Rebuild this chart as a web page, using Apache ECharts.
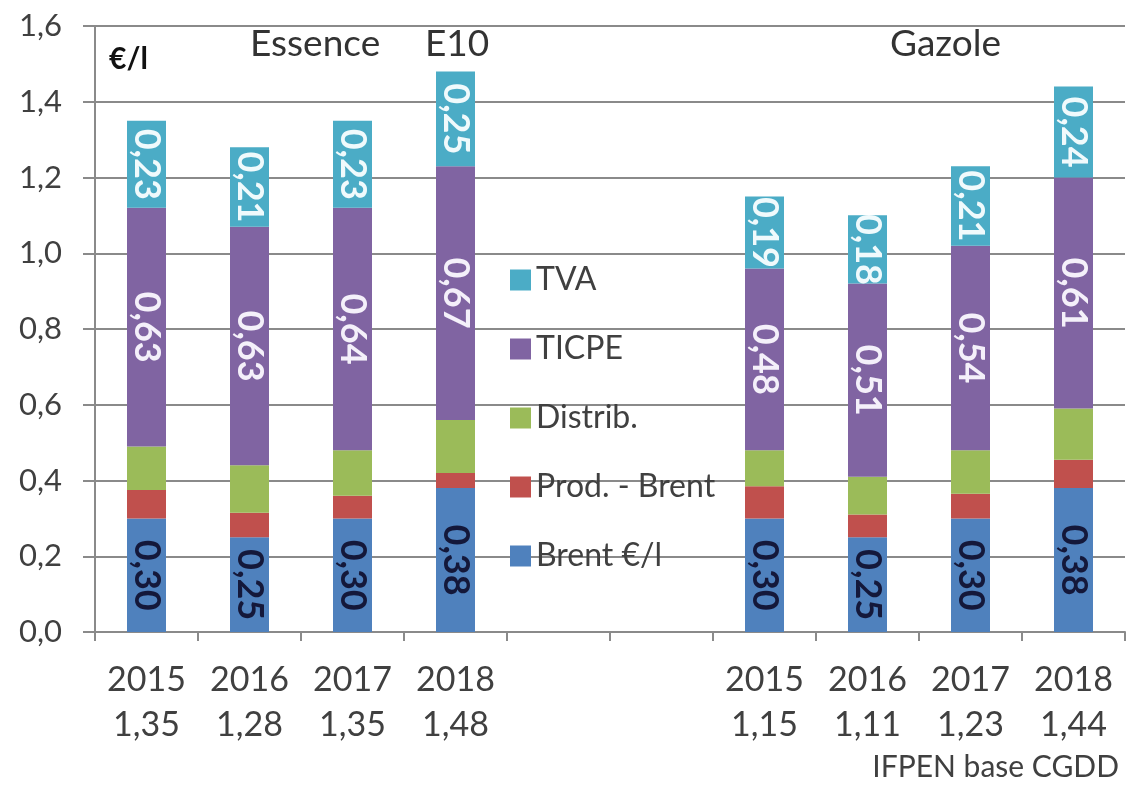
<!DOCTYPE html>
<html>
<head>
<meta charset="utf-8">
<title>Essence E10 / Gazole</title>
<script src="https://cdn.jsdelivr.net/npm/echarts@6/dist/echarts.min.js"></script>
<style>
  html, body { margin: 0; padding: 0; background: #fff; }
  #chart { width: 1129px; height: 785px; }
</style>
</head>
<body>
<div id="chart"></div>
<script>
// années et totaux (affichés sous les barres)
const years = ['2015', '2016', '2017', '2018']
const totalsEssence = ['1,35', '1,28', '1,35', '1,48']
const totalsGazole = ['1,15', '1,11', '1,23', '1,44']

// Essence E10, €/l
const brentEssence = [0.30, 0.25, 0.30, 0.38]
const prodEssence = [0.075, 0.065, 0.06, 0.04]
const distribEssence = [0.115, 0.125, 0.12, 0.14]
const ticpeEssence = [0.63, 0.63, 0.64, 0.67]
const tvaEssence = [0.23, 0.21, 0.23, 0.25]

// Gazole, €/l
const brentGazole = [0.30, 0.25, 0.30, 0.38]
const prodGazole = [0.085, 0.06, 0.065, 0.075]
const distribGazole = [0.095, 0.10, 0.115, 0.135]
const ticpeGazole = [0.48, 0.51, 0.54, 0.61]
const tvaGazole = [0.19, 0.18, 0.21, 0.24]

const FONT = 'Lato, "Open Sans", sans-serif'
const GRID_COLOR = '#8a8a8a'

// deux emplacements vides entre les deux groupes
const categories = years.map((y, i) => y + '\n' + totalsEssence[i])
  .concat([' ', '  '])
  .concat(years.map((y, i) => y + '\n' + totalsGazole[i]))

function join (e, g) {
  return e.concat([null, null], g)
}

function fmt (p) {
  return p.value == null ? '' : p.value.toFixed(2).replace('.', ',')
}

function barSeries (name, color, data, labelColor) {
  return {
    name: name,
    type: 'bar',
    stack: 'prix',
    barWidth: 39,
    itemStyle: { color: color },
    label: labelColor ? {
      show: true,
      position: 'inside',
      rotate: -90,
      color: labelColor,
      fontFamily: FONT,
      fontSize: 36,
      fontWeight: 'bold',
      formatter: fmt
    } : { show: false },
    data: data
  }
}

const chart = echarts.init(document.getElementById('chart'))
chart.setOption({
  animation: false,
  backgroundColor: '#fff',
  textStyle: { fontFamily: FONT },
  grid: { left: 95, right: 4, top: 26, bottom: 153 },
  legend: {
    orient: 'vertical',
    left: 505,
    top: 259,
    itemWidth: 21,
    itemHeight: 21,
    itemGap: 37,
    icon: 'rect',
    textStyle: { fontFamily: FONT, fontSize: 32, lineHeight: 32, color: '#404040' },
    data: ['TVA', 'TICPE', 'Distrib.', 'Prod. - Brent', 'Brent €/l']
  },
  graphic: [
    { type: 'text', left: 250, top: 26, style: { text: 'Essence', font: '37px ' + FONT, fill: '#333' } },
    { type: 'text', left: 425, top: 26, style: { text: 'E10', font: '37px ' + FONT, fill: '#333' } },
    { type: 'text', left: 890, top: 26, style: { text: 'Gazole', font: '37px ' + FONT, fill: '#333' } },
    { type: 'text', left: 109, top: 44, style: { text: '€/l', font: 'bold 30px ' + FONT, fill: '#111' } },
    { type: 'text', right: 10, top: 752, style: { text: 'IFPEN base CGDD', font: '30px ' + FONT, fill: '#404040' } }
  ],
  xAxis: {
    type: 'category',
    data: categories,
    axisLine: { lineStyle: { color: GRID_COLOR, width: 2 } },
    axisTick: { show: true, length: 9, lineStyle: { color: GRID_COLOR, width: 2 } },
    axisLabel: {
      interval: 0,
      margin: 26,
      fontFamily: FONT,
      fontSize: 34,
      lineHeight: 45,
      color: '#404040'
    }
  },
  yAxis: {
    type: 'value',
    min: 0,
    max: 1.6,
    interval: 0.2,
    axisLine: { show: true, lineStyle: { color: GRID_COLOR, width: 2 } },
    axisTick: { show: true, length: 12, lineStyle: { color: GRID_COLOR, width: 2 } },
    splitLine: { lineStyle: { color: GRID_COLOR, width: 2 } },
    axisLabel: {
      margin: 33,
      fontFamily: FONT,
      fontSize: 31,
      color: '#404040',
      formatter: v => v.toFixed(1).replace('.', ',')
    }
  },
  series: [
    barSeries('Brent €/l', '#4f81bd', join(brentEssence, brentGazole), '#14183a'),
    barSeries('Prod. - Brent', '#c0504d', join(prodEssence, prodGazole)),
    barSeries('Distrib.', '#9bbb59', join(distribEssence, distribGazole)),
    barSeries('TICPE', '#8064a2', join(ticpeEssence, ticpeGazole), '#f4f0fa'),
    barSeries('TVA', '#4bacc6', join(tvaEssence, tvaGazole), '#f0fafc')
  ]
})
window.addEventListener('resize', function () {
  chart.resize()
})
</script>
</body>
</html>
